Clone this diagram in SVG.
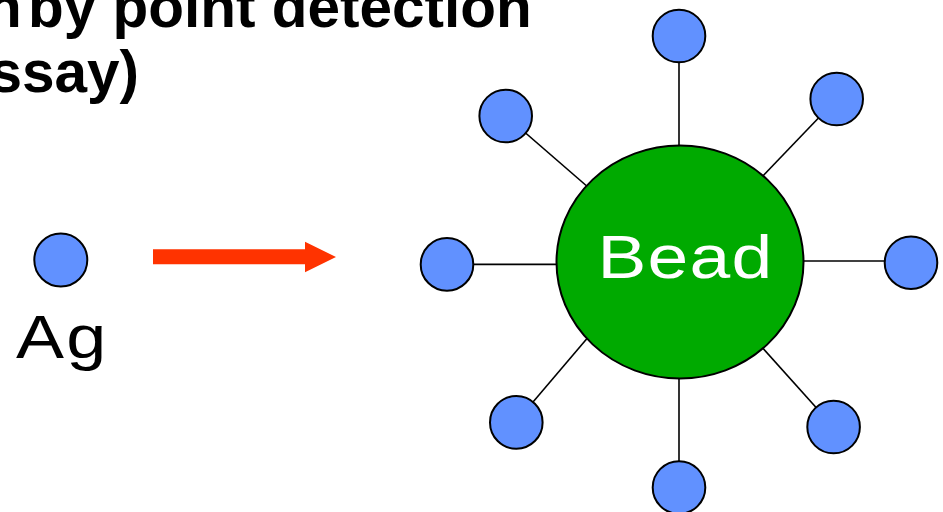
<svg xmlns="http://www.w3.org/2000/svg" width="943" height="512" viewBox="0 0 943 512">
<style>
.title{font-family:"Liberation Sans",Arial,sans-serif;font-weight:bold;font-size:58.5px;fill:#000}
.sat{fill:#6191FF;stroke:#000;stroke-width:2}
.link{stroke:#000;stroke-width:1.6;fill:none}
.lbl{font-family:"Liberation Sans",Arial,sans-serif;font-size:61px}
</style>
<rect width="943" height="512" fill="#fff"/>
<g id="title">
<text class="title" y="27"><tspan x="-14">n</tspan><tspan x="28">by point detection</tspan></text>
<text class="title" x="139" y="92" text-anchor="end">ssay)</text>
</g>
<g id="connectors">
<line class="link" x1="679" y1="36" x2="679" y2="170"/>
<line class="link" x1="506" y1="116" x2="600" y2="197.5"/>
<line class="link" x1="836.7" y1="99" x2="760" y2="179"/>
<line class="link" x1="447" y1="264.4" x2="580" y2="264.4"/>
<line class="link" x1="911" y1="261" x2="780" y2="261"/>
<line class="link" x1="516" y1="422" x2="590" y2="335"/>
<line class="link" x1="833.6" y1="427" x2="760" y2="345"/>
<line class="link" x1="679" y1="487" x2="679" y2="350"/>
<polygon id="arrow" points="153,249.3 305,249.3 305,241.7 336,257 305,272.3 305,264.3 153,264.3" fill="#FF3300"/>
</g>
<g id="ag">
<circle class="sat" cx="60.8" cy="260" r="26.5"/>
<text class="lbl" fill="#000" letter-spacing="2" transform="translate(16,358.3) scale(1.18,1)">Ag</text>
</g>
<g id="bead">
<ellipse cx="680" cy="262" rx="123.5" ry="116.5" fill="#00AA00" stroke="#000" stroke-width="2"/>
<text class="lbl" fill="#fff" font-size="62" letter-spacing="1" transform="translate(603,277.5) scale(1.2,1)" x="-4.5">Bead</text>
</g>
<g id="sat-top"><circle class="sat" cx="679" cy="36" r="26.3"/></g>
<g id="sat-upper-left"><circle class="sat" cx="505.7" cy="116" r="26.3"/></g>
<g id="sat-upper-right"><circle class="sat" cx="836.7" cy="99" r="26.3"/></g>
<g id="sat-left"><circle class="sat" cx="447" cy="264.4" r="26.3"/></g>
<g id="sat-right"><circle class="sat" cx="911" cy="262.7" r="26.3"/></g>
<g id="sat-lower-left"><circle class="sat" cx="516.3" cy="422.4" r="26.3"/></g>
<g id="sat-lower-right"><circle class="sat" cx="833.6" cy="427" r="26.3"/></g>
<g id="sat-bottom"><circle class="sat" cx="679" cy="487.5" r="26.3"/></g>
</svg>
